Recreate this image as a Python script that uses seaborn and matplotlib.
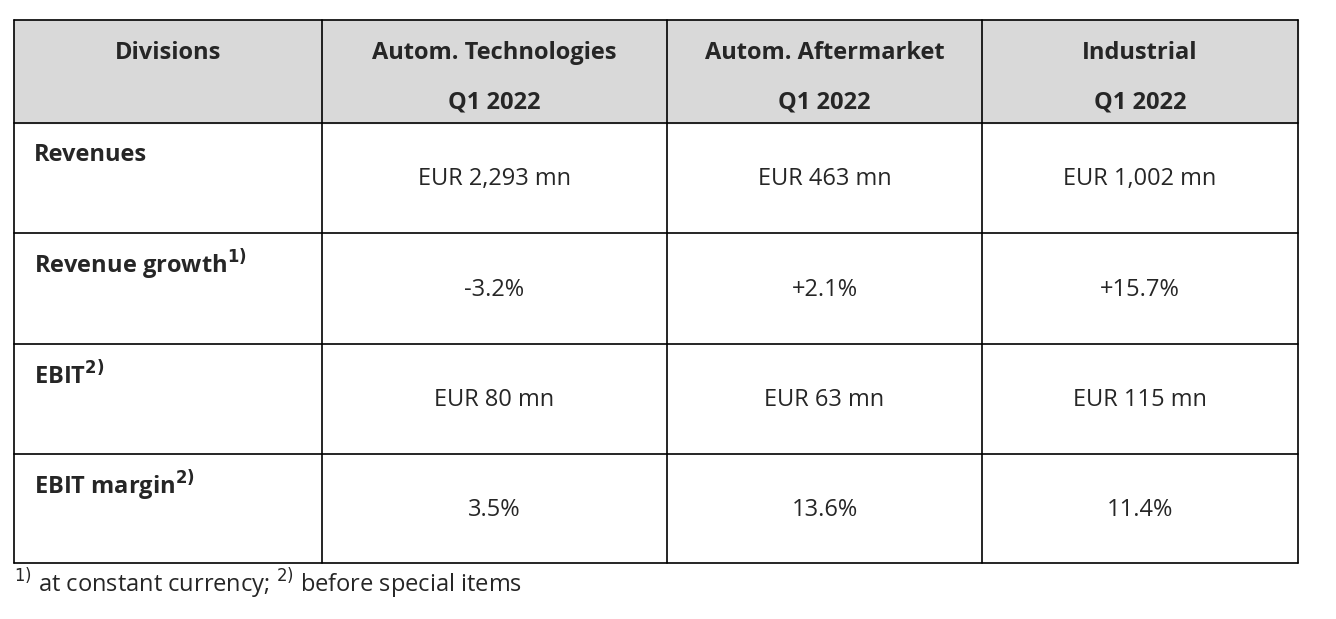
import seaborn as sns
import matplotlib.pyplot as plt

# table content
header_first = "Divisions"
divisions = ["Autom. Technologies", "Autom. Aftermarket", "Industrial"]
period = "Q1 2022"
row_labels = ["Revenues", "Revenue growth", "EBIT", "EBIT margin"]
row_notes = ["", "1)", "2)", "2)"]
revenues = ["EUR 2,293 mn", "EUR 463 mn", "EUR 1,002 mn"]
growth = ["-3.2%", "+2.1%", "+15.7%"]
ebit = ["EUR 80 mn", "EUR 63 mn", "EUR 115 mn"]
ebit_margin = ["3.5%", "13.6%", "11.4%"]
footnote = "at constant currency;"
footnote2 = "before special items"

values = [revenues, growth, ebit, ebit_margin]

sns.set_theme(style="white")
plt.rcParams["font.family"] = "Open Sans"

col_edges = [14, 322, 667, 982, 1298]
row_edges = [20, 123, 233, 344, 454, 563]

fig = plt.figure(figsize=(13.36, 6.19), dpi=100)
ax = fig.add_axes([0, 0, 1, 1])
ax.set_xlim(0, 1336)
ax.set_ylim(619, 0)
ax.axis("off")

fs = 17
# header background
ax.add_patch(plt.Rectangle((col_edges[0], row_edges[0]), col_edges[-1] - col_edges[0],
                           row_edges[1] - row_edges[0], color="#d9d9d9", zorder=0))
for x in col_edges:
    ax.plot([x, x], [row_edges[0], row_edges[-1]], color="black", lw=1.2)
for y in row_edges:
    ax.plot([col_edges[0], col_edges[-1]], [y, y], color="black", lw=1.2)

# header
ax.text((col_edges[0] + col_edges[1]) / 2, 53, header_first, ha="center", va="center",
        fontsize=fs, fontweight="bold")
for i, d in enumerate(divisions):
    cx = (col_edges[i + 1] + col_edges[i + 2]) / 2
    ax.text(cx, 53, d, ha="center", va="center", fontsize=fs, fontweight="bold")
    ax.text(cx, 103, period, ha="center", va="center", fontsize=fs, fontweight="bold")

# body
for r, (lab, note) in enumerate(zip(row_labels, row_notes)):
    top = row_edges[r + 1]
    bottom = row_edges[r + 2]
    txt = lab + (r"$^{\mathbf{" + note + "}}$" if note else "")
    ax.text(34, top + 32, txt, ha="left", va="center", fontsize=fs, fontweight="bold")
    for c, v in enumerate(values[r]):
        cx = (col_edges[c + 1] + col_edges[c + 2]) / 2
        ax.text(cx, (top + bottom) / 2 + 1, v, ha="center", va="center", fontsize=fs)

ax.text(14, 584, r"$^{1)}$ " + footnote + r" $^{2)}$ " + footnote2, ha="left", va="center",
        fontsize=fs)

fig.savefig("out.png", dpi=100, facecolor="white")
